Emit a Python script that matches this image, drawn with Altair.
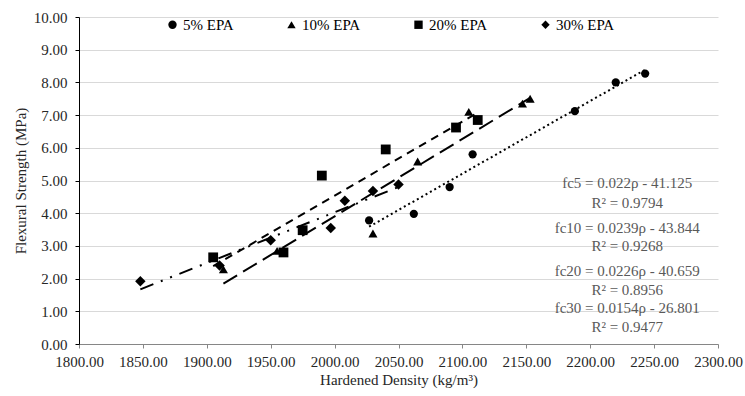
import altair as alt
import pandas as pd

series_names = ["5% EPA", "10% EPA", "20% EPA", "30% EPA"]

density_5 = [2027, 2062, 2090, 2108, 2188, 2220, 2243]
strength_5 = [3.78, 3.98, 4.80, 5.80, 7.12, 8.00, 8.27]
density_10 = [1913, 1955, 2030, 2065, 2105, 2147, 2153]
strength_10 = [2.28, 2.85, 3.38, 5.58, 7.10, 7.35, 7.50]
density_20 = [1905, 1960, 1975, 1990, 2040, 2095, 2112]
strength_20 = [2.65, 2.80, 3.48, 5.15, 5.95, 6.62, 6.85]
density_30 = [1848, 1910, 1950, 1997, 2008, 2030, 2050]
strength_30 = [1.92, 2.40, 3.17, 3.55, 4.38, 4.68, 4.88]

annotation_text = [
    "fc5 = 0.022ρ - 41.125", "R² = 0.9794",
    "fc10 = 0.0239ρ - 43.844", "R² = 0.9268",
    "fc20 = 0.0226ρ - 40.659", "R² = 0.8956",
    "fc30 = 0.0154ρ - 26.801", "R² = 0.9477",
]
annotation_x = [2229] * 8
annotation_y = [4.92, 4.31, 3.55, 3.00, 2.23, 1.65, 1.10, 0.52]

x_ticks = list(range(1800, 2301, 50))
y_ticks = list(range(0, 11))

rows = []
for name, xs, ys in zip(series_names,
                        [density_5, density_10, density_20, density_30],
                        [strength_5, strength_10, strength_20, strength_30]):
    for a, b in zip(xs, ys):
        rows.append({"series": name, "density": a, "strength": b})
df = pd.DataFrame(rows)
ann = pd.DataFrame({"text": annotation_text, "density": annotation_x, "strength": annotation_y})

FONT = "Liberation Serif"

x_enc = alt.X("density:Q",
              scale=alt.Scale(domain=[1800, 2300], nice=False, zero=False),
              axis=alt.Axis(title="Hardened Density (kg/m³)", format=".2f", values=x_ticks,
                            grid=False, domainColor="#868686", tickColor="#868686",
                            tickSize=4, labelPadding=6, titlePadding=3,
                            labelOverlap=False, labelFlush=False))
y_enc = alt.Y("strength:Q",
              scale=alt.Scale(domain=[0, 10], nice=False),
              axis=alt.Axis(title="Flexural Strength (MPa)", format=".2f", values=y_ticks,
                            grid=True, gridColor="#d9d9d9", gridWidth=1.2,
                            domainColor="#000000", tickColor="#000000",
                            tickSize=4, labelPadding=8, titlePadding=5,
                            labelOverlap=False, labelFlush=False))

dash_scale = alt.Scale(domain=series_names,
                       range=[[2, 3], [16, 7], [8, 6], [14, 8, 2, 8, 2, 8]])
shape_scale = alt.Scale(domain=series_names,
                        range=["circle", "triangle-up", "square", "diamond"])
size_scale = alt.Scale(domain=series_names, range=[68, 110, 95, 80])

base = alt.Chart(df)

lines = base.transform_regression(
    "density", "strength", groupby=["series"]
).transform_calculate(
    trend="datum.series"
).mark_line(color="black", strokeWidth=2).encode(
    x=x_enc, y=y_enc,
    strokeDash=alt.StrokeDash("trend:N", scale=dash_scale, legend=None),
)

points = base.transform_calculate(
    sz="datum.series"
).mark_point(filled=True, color="black", opacity=1).encode(
    x=x_enc, y=y_enc,
    size=alt.Size("sz:N", scale=size_scale, legend=None),
    shape=alt.Shape("series:N", scale=shape_scale,
                    legend=alt.Legend(title=None, orient="none", legendX=86, legendY=0,
                                      direction="horizontal", columns=4, gridAlign="each",
                                      columnPadding=50, labelFont=FONT, labelFontSize=15,
                                      labelColor="#000000", labelOffset=3,
                                      symbolSize=70, symbolFillColor="black",
                                      symbolStrokeColor="black")),
)

texts = alt.Chart(ann).mark_text(font=FONT, fontSize=15, color="#595959",
                                 align="center", baseline="middle").encode(
    x=x_enc, y=y_enc, text="text:N")

chart = alt.layer(lines, points, texts).resolve_scale(
    strokeDash="independent", size="independent"
).properties(
    width=639, height=327,
    autosize=alt.AutoSizeParams(type="none"),
    padding={"left": 79, "top": 17, "right": 27, "bottom": 52},
).configure_view(stroke=None).configure_axis(
    labelFont=FONT, labelFontSize=15, labelColor="#262626",
    titleFont=FONT, titleFontSize=15, titleFontWeight="normal", titleColor="#262626",
)

chart.save("out.html", embed_options={"renderer": "svg", "actions": False})
